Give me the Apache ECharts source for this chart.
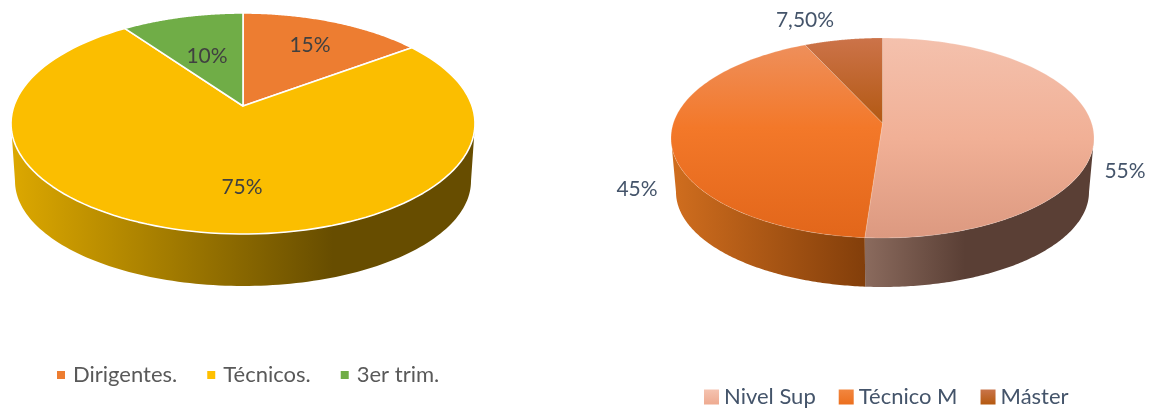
<!DOCTYPE html>
<html>
<head>
<meta charset="utf-8">
<style>html,body{margin:0;padding:0;background:#fff}#c{width:1150px;height:408px}</style>
<script src="https://cdn.jsdelivr.net/npm/echarts@6/dist/echarts.min.js"></script>
</head>
<body>
<div id="c"></div>
<script>
// ---- data ----
var leftCategories = ['Dirigentes.', 'Técnicos.', '3er trim.'];
var leftValues = [15, 75, 10];
var leftLabels = ['15%', '75%', '10%'];

var rightCategories = ['Nivel Sup', 'Técnico M', 'Máster'];
var rightValues = [55, 45, 7.5];
var rightLabels = ['55%', '45%', '7,50%'];

// ---- layout and style ----
var G = echarts.graphic.LinearGradient;
function vg(a, b, stops) { return new G(0, a, 0, b, stops, true); }
function hg(a, b, stops) { return new G(a, 0, b, 0, stops, true); }

var leftPie = {
  cx: 243, cy: 123.5, rx: 232, ry: 110.5, apexX: 243, apexY: 106,
  cx2: 243, cy2: 181, rx2: 228, ry2: 105,
  values: leftValues, labels: leftLabels, names: leftCategories,
  labelColor: '#404040', stroke: '#ffffff', strokeWidth: 1.6,
  labelAt: [[310, 45], [242, 187], [207, 56]],
  top: ['#ED7D31', '#FBBE00', '#70AD47'],
  wall: [
    '#a9561f',
    hg(15, 333, [{offset: 0, color: '#dba700'}, {offset: 1, color: '#674d00'}]),
    '#4c7430'
  ]
};
var rightPie = {
  cx: 882.5, cy: 138, rx: 211.5, ry: 100, apexX: 882.5, apexY: 123,
  cx2: 882.5, cy2: 192, rx2: 206.5, ry2: 95,
  values: rightValues, labels: rightLabels, names: rightCategories,
  labelColor: '#44546A', stroke: 'rgba(255,255,255,0.22)', strokeWidth: 0.8,
  labelAt: [[1125, 171], [637, 189], [805, 20]],
  top: [
    vg(38, 238, [{offset: 0, color: '#f4c1ad'}, {offset: 0.5, color: '#f1b096'}, {offset: 1, color: '#dc9980'}]),
    vg(38, 238, [{offset: 0, color: '#ee915f'}, {offset: 0.45, color: '#f37829'}, {offset: 1, color: '#e2661a'}]),
    vg(38, 125, [{offset: 0, color: '#cc7349'}, {offset: 1, color: '#b25811'}])
  ],
  wall: [
    hg(866, 965, [{offset: 0, color: '#8a6a5d'}, {offset: 1, color: '#5a3f35'}]),
    hg(675, 866, [{offset: 0, color: '#cf6d1e'}, {offset: 1, color: '#823e0a'}]),
    '#8a4310'
  ]
};
var legendSwatches = [
  new G(0, 0, 0, 1, [{offset: 0, color: '#f5c3b0'}, {offset: 1, color: '#eeaa90'}]),
  new G(0, 0, 0, 1, [{offset: 0, color: '#f2863f'}, {offset: 1, color: '#ec6f1e'}]),
  new G(0, 0, 0, 1, [{offset: 0, color: '#c9744a'}, {offset: 1, color: '#b5590f'}])
];

function rimAngle(p, theta) {
  // ray from the apex, squashed like the ellipse, meeting the rim
  var dx = Math.sin(theta) * p.rx, dy = -Math.cos(theta) * p.ry;
  var ox = (p.apexX - p.cx) / p.rx, oy = (p.apexY - p.cy) / p.ry;
  var ux = dx / p.rx, uy = dy / p.ry;
  var a = ux * ux + uy * uy, b = 2 * (ox * ux + oy * uy), c = ox * ox + oy * oy - 1;
  var t = (-b + Math.sqrt(b * b - 4 * a * c)) / (2 * a);
  var ex = ox + t * ux, ey = oy + t * uy;
  var phi = Math.atan2(ex, -ey);
  if (phi < 0) phi += Math.PI * 2;
  return phi;
}
function rim(cx, cy, rx, ry, phi) {
  return [cx + Math.sin(phi) * rx, cy - Math.cos(phi) * ry];
}

function sliceSeries(p, i, swatch) {
  var total = p.values.reduce(function (s, v) { return s + v; }, 0);
  var before = p.values.slice(0, i).reduce(function (s, v) { return s + v; }, 0);
  return {
    type: 'custom',
    name: p.names[i],
    coordinateSystem: 'none',
    silent: true,
    animation: false,
    itemStyle: {color: swatch},
    data: [[p.values[i]]],
    renderItem: function (params, api) {
      var t0 = before / total * Math.PI * 2;
      var t1 = (before + api.value(0)) / total * Math.PI * 2;
      var a0 = rimAngle(p, t0);
      var a1 = t1 >= Math.PI * 2 - 1e-6 ? Math.PI * 2 : rimAngle(p, t1);
      if (a0 > a1) a1 += Math.PI * 2;
      var n = 120, k, phi;
      var topPts = [[p.apexX, p.apexY]];
      for (k = 0; k <= n; k++) {
        phi = a0 + (a1 - a0) * k / n;
        topPts.push(rim(p.cx, p.cy, p.rx, p.ry, phi));
      }
      var children = [];
      var w0 = Math.max(a0, Math.PI / 2), w1 = Math.min(a1, Math.PI * 1.5);
      if (w1 > w0) {
        var upper = [], lower = [];
        for (k = 0; k <= n; k++) {
          phi = w0 + (w1 - w0) * k / n;
          upper.push(rim(p.cx, p.cy, p.rx, p.ry, phi));
          lower.unshift(rim(p.cx2, p.cy2, p.rx2, p.ry2, phi));
        }
        children.push({
          type: 'polygon', z2: 1,
          shape: {points: upper.concat(lower)},
          style: {fill: p.wall[i], stroke: null}
        });
      }
      children.push({
        type: 'polygon', z2: 2,
        shape: {points: topPts},
        style: {fill: p.top[i], stroke: p.stroke, lineWidth: p.strokeWidth, lineJoin: 'round'}
      });
      children.push({
        type: 'text', z2: 3,
        style: {
          text: p.labels[i], x: p.labelAt[i][0], y: p.labelAt[i][1],
          fill: p.labelColor, font: '21px Lato, "Open Sans", sans-serif',
          align: 'center', verticalAlign: 'middle'
        }
      });
      return {type: 'group', children: children};
    }
  };
}

var series = [];
leftCategories.forEach(function (c, i) { series.push(sliceSeries(leftPie, i, ['#ED7D31', '#FFC000', '#70AD47'][i])); });
rightCategories.forEach(function (c, i) { series.push(sliceSeries(rightPie, i, legendSwatches[i])); });

var chart = echarts.init(document.getElementById('c'), null, {renderer: 'canvas'});
chart.setOption({
  backgroundColor: '#ffffff',
  animation: false,
  legend: [
    {
      data: leftCategories, left: 52, top: 359, itemWidth: 8, itemHeight: 8, itemGap: 30,
      icon: 'rect', selectedMode: false,
      textStyle: {color: '#595959', fontFamily: 'Lato', fontSize: 22, padding: [0, 0, 0, 3]}
    },
    {
      data: rightCategories, left: 699, top: 381, itemWidth: 15, itemHeight: 15, itemGap: 23,
      icon: 'rect', selectedMode: false,
      textStyle: {color: '#44546A', fontFamily: 'Lato', fontSize: 22, padding: [0, 0, 0, 0]}
    }
  ],
  series: series
});
</script>
</body>
</html>
